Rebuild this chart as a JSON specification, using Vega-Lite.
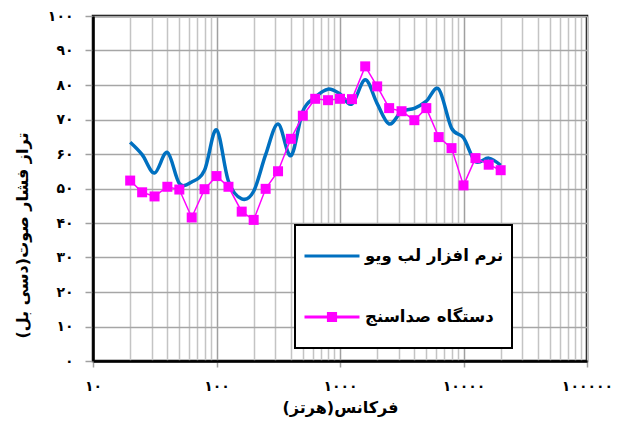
{
  "$schema": "https://vega.github.io/schema/vega-lite/v6.json",
  "width": 494,
  "height": 345,
  "autosize": {"type": "none"},
  "padding": {"left": 93, "top": 16, "right": 33, "bottom": 66},
  "background": "white",
  "config": {
    "view": {"stroke": "black", "strokeWidth": 2.5},
    "font": "DejaVu Sans"
  },
  "data": {
    "values": [
      {"f": 20, "v": 63.4, "s": "نرم افزار لب ویو"},
      {"f": 25, "v": 59.8, "s": "نرم افزار لب ویو"},
      {"f": 31.5, "v": 54.5, "s": "نرم افزار لب ویو"},
      {"f": 40, "v": 60.5, "s": "نرم افزار لب ویو"},
      {"f": 50, "v": 51.5, "s": "نرم افزار لب ویو"},
      {"f": 63, "v": 51.9, "s": "نرم افزار لب ویو"},
      {"f": 80, "v": 55.3, "s": "نرم افزار لب ویو"},
      {"f": 100, "v": 67.0, "s": "نرم افزار لب ویو"},
      {"f": 125, "v": 52.1, "s": "نرم افزار لب ویو"},
      {"f": 160, "v": 47.0, "s": "نرم افزار لب ویو"},
      {"f": 200, "v": 49.2, "s": "نرم افزار لب ویو"},
      {"f": 250, "v": 59.8, "s": "نرم افزار لب ویو"},
      {"f": 315, "v": 68.7, "s": "نرم افزار لب ویو"},
      {"f": 400, "v": 59.5, "s": "نرم افزار لب ویو"},
      {"f": 500, "v": 72.4, "s": "نرم افزار لب ویو"},
      {"f": 630, "v": 76.5, "s": "نرم افزار لب ویو"},
      {"f": 800, "v": 78.8, "s": "نرم افزار لب ویو"},
      {"f": 1000, "v": 77.4, "s": "نرم افزار لب ویو"},
      {"f": 1250, "v": 74.5, "s": "نرم افزار لب ویو"},
      {"f": 1600, "v": 81.5, "s": "نرم افزار لب ویو"},
      {"f": 2000, "v": 74.6, "s": "نرم افزار لب ویو"},
      {"f": 2500, "v": 68.7, "s": "نرم افزار لب ویو"},
      {"f": 3150, "v": 72.3, "s": "نرم افزار لب ویو"},
      {"f": 4000, "v": 73.2, "s": "نرم افزار لب ویو"},
      {"f": 5000, "v": 75.3, "s": "نرم افزار لب ویو"},
      {"f": 6300, "v": 78.8, "s": "نرم افزار لب ویو"},
      {"f": 8000, "v": 67.5, "s": "نرم افزار لب ویو"},
      {"f": 10000, "v": 64.7, "s": "نرم افزار لب ویو"},
      {"f": 12500, "v": 57.8, "s": "نرم افزار لب ویو"},
      {"f": 16000, "v": 58.8, "s": "نرم افزار لب ویو"},
      {"f": 20000, "v": 56.7, "s": "نرم افزار لب ویو"},
      {"f": 20, "v": 52.3, "s": "دستگاه صداسنج"},
      {"f": 25, "v": 48.9, "s": "دستگاه صداسنج"},
      {"f": 31.5, "v": 47.7, "s": "دستگاه صداسنج"},
      {"f": 40, "v": 50.5, "s": "دستگاه صداسنج"},
      {"f": 50, "v": 49.7, "s": "دستگاه صداسنج"},
      {"f": 63, "v": 41.6, "s": "دستگاه صداسنج"},
      {"f": 80, "v": 49.8, "s": "دستگاه صداسنج"},
      {"f": 100, "v": 53.6, "s": "دستگاه صداسنج"},
      {"f": 125, "v": 50.5, "s": "دستگاه صداسنج"},
      {"f": 160, "v": 43.3, "s": "دستگاه صداسنج"},
      {"f": 200, "v": 40.9, "s": "دستگاه صداسنج"},
      {"f": 250, "v": 49.9, "s": "دستگاه صداسنج"},
      {"f": 315, "v": 55.0, "s": "دستگاه صداسنج"},
      {"f": 400, "v": 64.4, "s": "دستگاه صداسنج"},
      {"f": 500, "v": 71.1, "s": "دستگاه صداسنج"},
      {"f": 630, "v": 76.0, "s": "دستگاه صداسنج"},
      {"f": 800, "v": 75.6, "s": "دستگاه صداسنج"},
      {"f": 1000, "v": 76.0, "s": "دستگاه صداسنج"},
      {"f": 1250, "v": 75.9, "s": "دستگاه صداسنج"},
      {"f": 1600, "v": 85.4, "s": "دستگاه صداسنج"},
      {"f": 2000, "v": 79.6, "s": "دستگاه صداسنج"},
      {"f": 2500, "v": 73.3, "s": "دستگاه صداسنج"},
      {"f": 3150, "v": 72.4, "s": "دستگاه صداسنج"},
      {"f": 4000, "v": 69.8, "s": "دستگاه صداسنج"},
      {"f": 5000, "v": 73.3, "s": "دستگاه صداسنج"},
      {"f": 6300, "v": 64.9, "s": "دستگاه صداسنج"},
      {"f": 8000, "v": 61.7, "s": "دستگاه صداسنج"},
      {"f": 10000, "v": 50.9, "s": "دستگاه صداسنج"},
      {"f": 12500, "v": 58.8, "s": "دستگاه صداسنج"},
      {"f": 16000, "v": 56.9, "s": "دستگاه صداسنج"},
      {"f": 20000, "v": 55.3, "s": "دستگاه صداسنج"}
    ]
  },
  "encoding": {
    "x": {
      "field": "f",
      "type": "quantitative",
      "scale": {"type": "log", "domain": [10, 100000], "nice": false},
      "axis": {
        "values": [10, 20, 30, 40, 50, 60, 70, 80, 90, 100, 200, 300, 400, 500, 600, 700, 800, 900, 1000, 2000, 3000, 4000, 5000, 6000, 7000, 8000, 9000, 10000, 20000, 30000, 40000, 50000, 60000, 70000, 80000, 90000, 100000],
        "title": "فرکانس(هرتز)",
        "titleFontSize": 16,
        "titleFontWeight": "bold",
        "titleColor": "black",
        "titlePadding": 6,
        "labelExpr": "datum.value==10?'۱۰':datum.value==100?'۱۰۰':datum.value==1000?'۱۰۰۰':datum.value==10000?'۱۰۰۰۰':datum.value==100000?'۱۰۰۰۰۰':''",
        "labelFontSize": 14,
        "labelFontWeight": "bold",
        "labelColor": "black",
        "labelPadding": 12,
        "labelFlush": false,
        "labelOverlap": false,
        "grid": true,
        "gridColor": {"condition": {"test": "indexof([10,100,1000,10000],datum.value)>=0", "value": "#a0a0a0"}, "value": "#c4c4c4"},
        "gridWidth": 1.5,
        "tickColor": "#a0a0a0",
        "tickOpacity": {"condition": {"test": "indexof([10,100,1000,10000,100000],datum.value)>=0", "value": 1}, "value": 0},
        "tickSize": 6,
        "tickWidth": 1.5,
        "domainColor": "black",
        "domainWidth": 2.5
      }
    },
    "y": {
      "field": "v",
      "type": "quantitative",
      "scale": {"domain": [0, 100], "nice": false},
      "axis": {
        "values": [0, 10, 20, 30, 40, 50, 60, 70, 80, 90, 100],
        "labelExpr": "['۰','۱۰','۲۰','۳۰','۴۰','۵۰','۶۰','۷۰','۸۰','۹۰','۱۰۰'][round(datum.value/10)]",
        "labelFontSize": 14,
        "labelFontWeight": "bold",
        "labelColor": "black",
        "labelPadding": 12,
        "grid": true,
        "gridColor": "#a6a6a6",
        "gridWidth": 1.5,
        "tickColor": "#a0a0a0",
        "tickSize": 8,
        "tickWidth": 1.5,
        "domainColor": "black",
        "domainWidth": 2.5,
        "title": "تراز فشار صوت(دسی بل)",
        "titleFontSize": 16,
        "titleFontWeight": "bold",
        "titleColor": "black",
        "titleX": -71,
        "titleY": 219,
        "titleAlign": "center",
        "titleBaseline": "middle",
        "titleAngle": -90
      }
    }
  },
  "layer": [
    {
      "transform": [{"filter": "datum.s=='نرم افزار لب ویو'"}],
      "mark": {"type": "line", "interpolate": "cardinal", "strokeWidth": 3.5},
      "encoding": {
        "color": {
          "field": "s",
          "type": "nominal",
          "scale": {"domain": ["نرم افزار لب ویو", "دستگاه صداسنج"], "range": ["#0070c0", "#ff00ff"]},
          "legend": {
            "title": null,
            "orient": "none",
            "legendX": 202,
            "legendY": 209,
            "strokeColor": "black",
            "fillColor": "white",
            "padding": 8,
            "rowPadding": 15,
            "clipHeight": 46,
            "labelOffset": 4,
            "labelFontSize": 16.5,
            "labelFontWeight": "bold",
            "labelColor": "black",
            "labelFont": "DejaVu Sans",
            "symbolSize": 3025,
            "symbolType": "stroke",
            "symbolStrokeWidth": 3,
            "encode": {
              "legend": {"update": {"strokeWidth": {"value": 2}}},
              "symbols": {
                "update": {
                  "shape": {"signal": "datum.value=='دستگاه صداسنج' ? 'M-1,0H1M-0.13,-0.13H0.13V0.13H-0.13Z' : 'M-1,0H1'"},
                  "fill": {"signal": "datum.value=='دستگاه صداسنج' ? '#ff00ff' : 'transparent'"}
                }
              }
            }
          }
        }
      }
    },
    {
      "transform": [{"filter": "datum.s=='دستگاه صداسنج'"}],
      "mark": {"type": "line", "color": "#ff00ff", "strokeWidth": 1.5},
      "encoding": {}
    },
    {
      "transform": [{"filter": "datum.s=='دستگاه صداسنج'"}],
      "mark": {"type": "point", "shape": "square", "filled": true, "color": "#ff00ff", "size": 100, "opacity": 1},
      "encoding": {}
    }
  ]
}
